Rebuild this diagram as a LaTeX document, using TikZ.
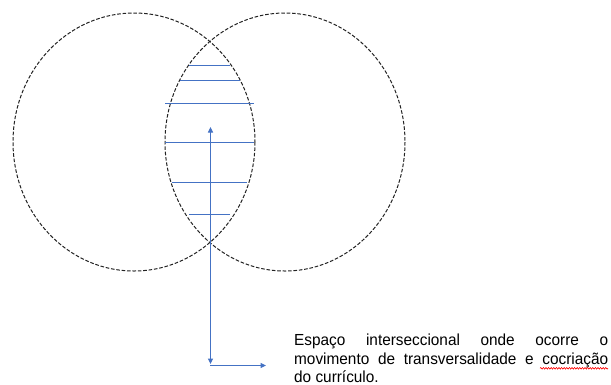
\documentclass[tikz,border=0pt]{standalone}
\usepackage{fontspec}
\newfontfamily\capfont[FakeStretch=0.96]{Liberation Sans}
\usetikzlibrary{arrows.meta,decorations.pathmorphing}
\definecolor{offblue}{HTML}{4472C4}
\definecolor{dashgray}{HTML}{222222}
\tikzset{
  setring/.style={draw=dashgray,line width=1pt,dash pattern=on 3.6pt off 1.8pt},
  hatch/.style={draw=offblue,line width=1.1pt},
  pointer/.style={draw=offblue,line width=1pt,>={Triangle[length=5.5pt,width=5pt]}},
  caption/.style={inner sep=0pt,anchor=base west,font=\capfont\fontsize{16}{18}\selectfont},
  squiggle/.style={draw=red,line width=0.6pt,decorate,decoration={snake,amplitude=0.8pt,segment length=2.6pt}}
}
\begin{document}
\begin{tikzpicture}[x=1pt,y=-1pt]
\useasboundingbox (0,0) rectangle (611,384);
% sets
\draw[setring] (134,142) ellipse [x radius=121,y radius=129];
\draw[setring] (285,142) ellipse [x radius=120,y radius=129];
% hatch lines in the intersection
\coordinate (h1a) at (189,65.5);  \coordinate (h1b) at (230,65.5);
\coordinate (h2a) at (180,80.5);    \coordinate (h2b) at (240,80.5);
\coordinate (h3a) at (165,103.5); \coordinate (h3b) at (254,103.5);
\coordinate (h4a) at (165,142.5); \coordinate (h4b) at (254,142.5);
\coordinate (h5a) at (171.5,182.5); \coordinate (h5b) at (246.5,182.5);
\coordinate (h6a) at (189,214.5); \coordinate (h6b) at (230,214.5);
\draw[hatch] (h1a) -- (h1b);
\draw[hatch] (h2a) -- (h2b);
\draw[hatch] (h3a) -- (h3b);
\draw[hatch] (h4a) -- (h4b);
\draw[hatch] (h5a) -- (h5b);
\draw[hatch] (h6a) -- (h6b);
% pointer arrows
\coordinate (top) at (210.5,127);
\coordinate (bot) at (210.5,364);
\coordinate (corner) at (210,365.5);
\coordinate (right) at (266,365.5);
\draw[pointer,<->] (top) -- (bot);
\draw[pointer,->] (corner) -- (right);
% caption
\node[caption] (t1) at (294,345.7) {\makebox[314pt][s]{Espaço interseccional onde ocorre o}};
\node[caption] (t2) at (294,364) {\makebox[314pt][s]{movimento de transversalidade e cocriação}};
\node[caption] (t3) at (294,382) {do currículo.};
\coordinate (sqa) at (540,368.3);
\coordinate (sqb) at (608,368.3);
\draw[squiggle] (sqa) -- (sqb);
\end{tikzpicture}
\end{document}
